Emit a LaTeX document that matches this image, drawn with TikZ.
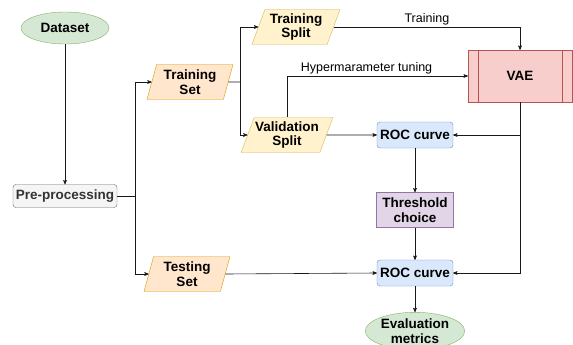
\documentclass[tikz,border=0pt]{standalone}
\usepackage{fontspec}
\setmainfont{Liberation Sans}
\usepackage{tikz}
\usetikzlibrary{arrows,shapes.geometric,positioning}

\definecolor{termfill}{HTML}{D5E8D4}
\definecolor{termline}{HTML}{82B366}
\definecolor{prefill}{HTML}{F5F5F5}
\definecolor{preline}{HTML}{666666}
\definecolor{setfill}{HTML}{FFE6CC}
\definecolor{setline}{HTML}{D79B00}
\definecolor{splitfill}{HTML}{FFF2CC}
\definecolor{splitline}{HTML}{D6B656}
\definecolor{vaefill}{HTML}{F8CECC}
\definecolor{vaeline}{HTML}{B85450}
\definecolor{rocfill}{HTML}{DAE8FC}
\definecolor{rocline}{HTML}{6C8EBF}
\definecolor{thrfill}{HTML}{E1D5E7}
\definecolor{thrline}{HTML}{9673A6}

\tikzset{
  lbl/.style={font=\fontsize{13.5}{14.5}\selectfont\bfseries, align=center, inner sep=1pt},
  term/.style={lbl, ellipse, draw=termline, fill=termfill, minimum width=88pt, minimum height=32pt},
  prebox/.style={lbl, rectangle, rounded corners=3pt, draw=preline, fill=prefill, text=black!80, minimum width=104pt, minimum height=23pt},
  dataset/.style={lbl, trapezium, trapezium stretches body, trapezium left angle=70, trapezium right angle=110, draw=setline, fill=setfill, minimum width=86pt, minimum height=35pt},
  datasplit/.style={lbl, trapezium, trapezium stretches body, trapezium left angle=66, trapezium right angle=114, draw=splitline, fill=splitfill, minimum width=88pt, minimum height=35pt},
  rocbox/.style={lbl, rectangle, rounded corners=3pt, draw=rocline, fill=rocfill, minimum width=76pt, minimum height=26pt},
  thrbox/.style={lbl, rectangle, draw=thrline, fill=thrfill, minimum width=77pt, minimum height=35pt},
  vaebox/.style={lbl, rectangle, draw=vaeline, fill=vaefill, minimum width=104pt, minimum height=52pt},
  conn/.style={draw=black!90, semithick},
  edgetext/.style={font=\fontsize{12.5}{13.5}\selectfont, inner sep=2pt}
}

\begin{document}
\begin{tikzpicture}[x=1pt,y=-1pt,>=stealth']
    \useasboundingbox (0,0) rectangle (573,345);

    \node[term]      (data)    at (65,28)   {Dataset};
    \node[prebox]    (pre)     at (65,196)  {Pre-processing};
    \node[dataset]   (trset)   at (190,82)  {Training\\Set};
    \node[dataset]   (teset)   at (187,274) {Testing\\Set};
    \node[datasplit] (trsplit) at (296,27)  {Training\\Split};
    \node[datasplit] (vasplit) at (287,135) {Validation\\Split};
    \node[vaebox]    (vae)     at (520,76)  {VAE};
    \node[rocbox]    (roc1)    at (415,135) {ROC curve};
    \node[thrbox]    (thr)     at (415,210) {Threshold\\choice};
    \node[rocbox]    (roc2)    at (415,273) {ROC curve};
    \node[term]      (eval)    at (415,331) {Evaluation\\metrics};

    \draw[vaeline, semithick] ([xshift=10pt]vae.north west) -- ([xshift=10pt]vae.south west)
                   ([xshift=-10pt]vae.north east) -- ([xshift=-10pt]vae.south east);

    \coordinate (fork1) at (135,196);
    \coordinate (fork2) at (240,82);

    \draw[conn,->] (data) -- (pre);
    \draw[conn] (pre.east) -- (fork1);
    \draw[conn,->] (fork1) |- (trset.west);
    \draw[conn,->] (fork1) |- (teset.west);
    \draw[conn] (trset.east) -- (fork2);
    \draw[conn,->] (fork2) |- (trsplit.west);
    \draw[conn,->] (fork2) |- (vasplit.west);
    \draw[conn,->] (trsplit.east) -| node[edgetext, pos=0.25, above] {Training} (vae.north);
    \draw[conn,->] (vasplit.north) |- node[edgetext, pos=0.72, above] {Hypermarameter tuning} (vae.west);
    \draw[conn,->] (vasplit.east) -- (roc1.west);
    \draw[conn,->] (vae.south) |- (roc1.east);
    \draw[conn,->] (vae.south) |- (roc2.east);
    \draw[conn,->] (roc1) -- (thr);
    \draw[conn,->] (thr) -- (roc2);
    \draw[conn,->] (teset.east) -- (roc2.west);
    \draw[conn,->] (roc2) -- (eval);
\end{tikzpicture}
\end{document}
